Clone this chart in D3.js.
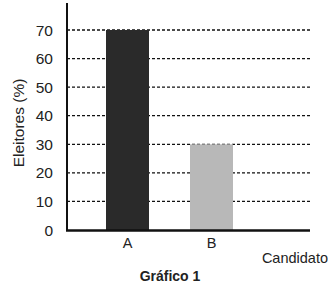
<!DOCTYPE html>
<html><head><meta charset="utf-8">
<script src="https://cdn.jsdelivr.net/npm/d3@7"></script>
<style>body{margin:0;background:#fff}svg{display:block;font-family:"Liberation Sans",Arial,sans-serif}</style>
</head><body>
<svg id="c" width="328" height="287"></svg>
<script>
const categories = ["A", "B"];
const values = [70, 30];
const yTicks = [0, 10, 20, 30, 40, 50, 60, 70];
const barColors = ["#2a2a2a", "#b8b8b8"];

const svg = d3.select("#c");
const x0 = 67, x1 = 310, yTop = 3, yBase = 230;
const y = d3.scaleLinear().domain([0, 70]).range([yBase, 30]);
const xc = d3.scalePoint().domain(categories).range([127.5, 211.5]);
const bw = 43;

// gridlines
svg.append("g").selectAll("line").data(yTicks.filter(d => d > 0)).join("line")
  .attr("x1", x0).attr("x2", x1).attr("y1", d => y(d)).attr("y2", d => y(d))
  .attr("stroke", "#111").attr("stroke-width", 1.3).attr("stroke-dasharray", "3,2");

// bars
svg.append("g").selectAll("rect").data(values).join("rect")
  .attr("x", (d, i) => xc(categories[i]) - bw / 2)
  .attr("width", bw)
  .attr("y", d => y(d))
  .attr("height", d => yBase - y(d))
  .attr("fill", (d, i) => barColors[i]);

// axes lines
svg.append("line").attr("x1", x0).attr("x2", x0).attr("y1", yTop).attr("y2", yBase + 1)
  .attr("stroke", "#111").attr("stroke-width", 2);
svg.append("line").attr("x1", x0 - 1).attr("x2", x1).attr("y1", yBase + 0.5).attr("y2", yBase + 0.5)
  .attr("stroke", "#111").attr("stroke-width", 2.5);

// y tick labels
svg.append("g").selectAll("text").data(yTicks).join("text")
  .attr("x", 53).attr("y", d => y(d) + 5.5)
  .attr("text-anchor", "end").attr("font-size", 15.5).attr("fill", "#222")
  .text(d => d);

// x labels
svg.append("g").selectAll("text").data(categories).join("text")
  .attr("x", d => xc(d)).attr("y", 248)
  .attr("text-anchor", "middle").attr("font-size", 14.5).attr("fill", "#222")
  .text(d => d);

svg.append("text").attr("x", 328).attr("y", 263).attr("text-anchor", "end")
  .attr("font-size", 14.5).attr("fill", "#222").text("Candidato");

svg.append("text").attr("x", 170).attr("y", 281).attr("text-anchor", "middle")
  .attr("font-size", 14).attr("font-weight", "bold").attr("fill", "#222").text("Gráfico 1");

svg.append("text").attr("transform", "translate(23.5,123) rotate(-90)")
  .attr("text-anchor", "middle").attr("font-size", 15.5).attr("fill", "#222").text("Eleitores (%)");
</script>
</body></html>
